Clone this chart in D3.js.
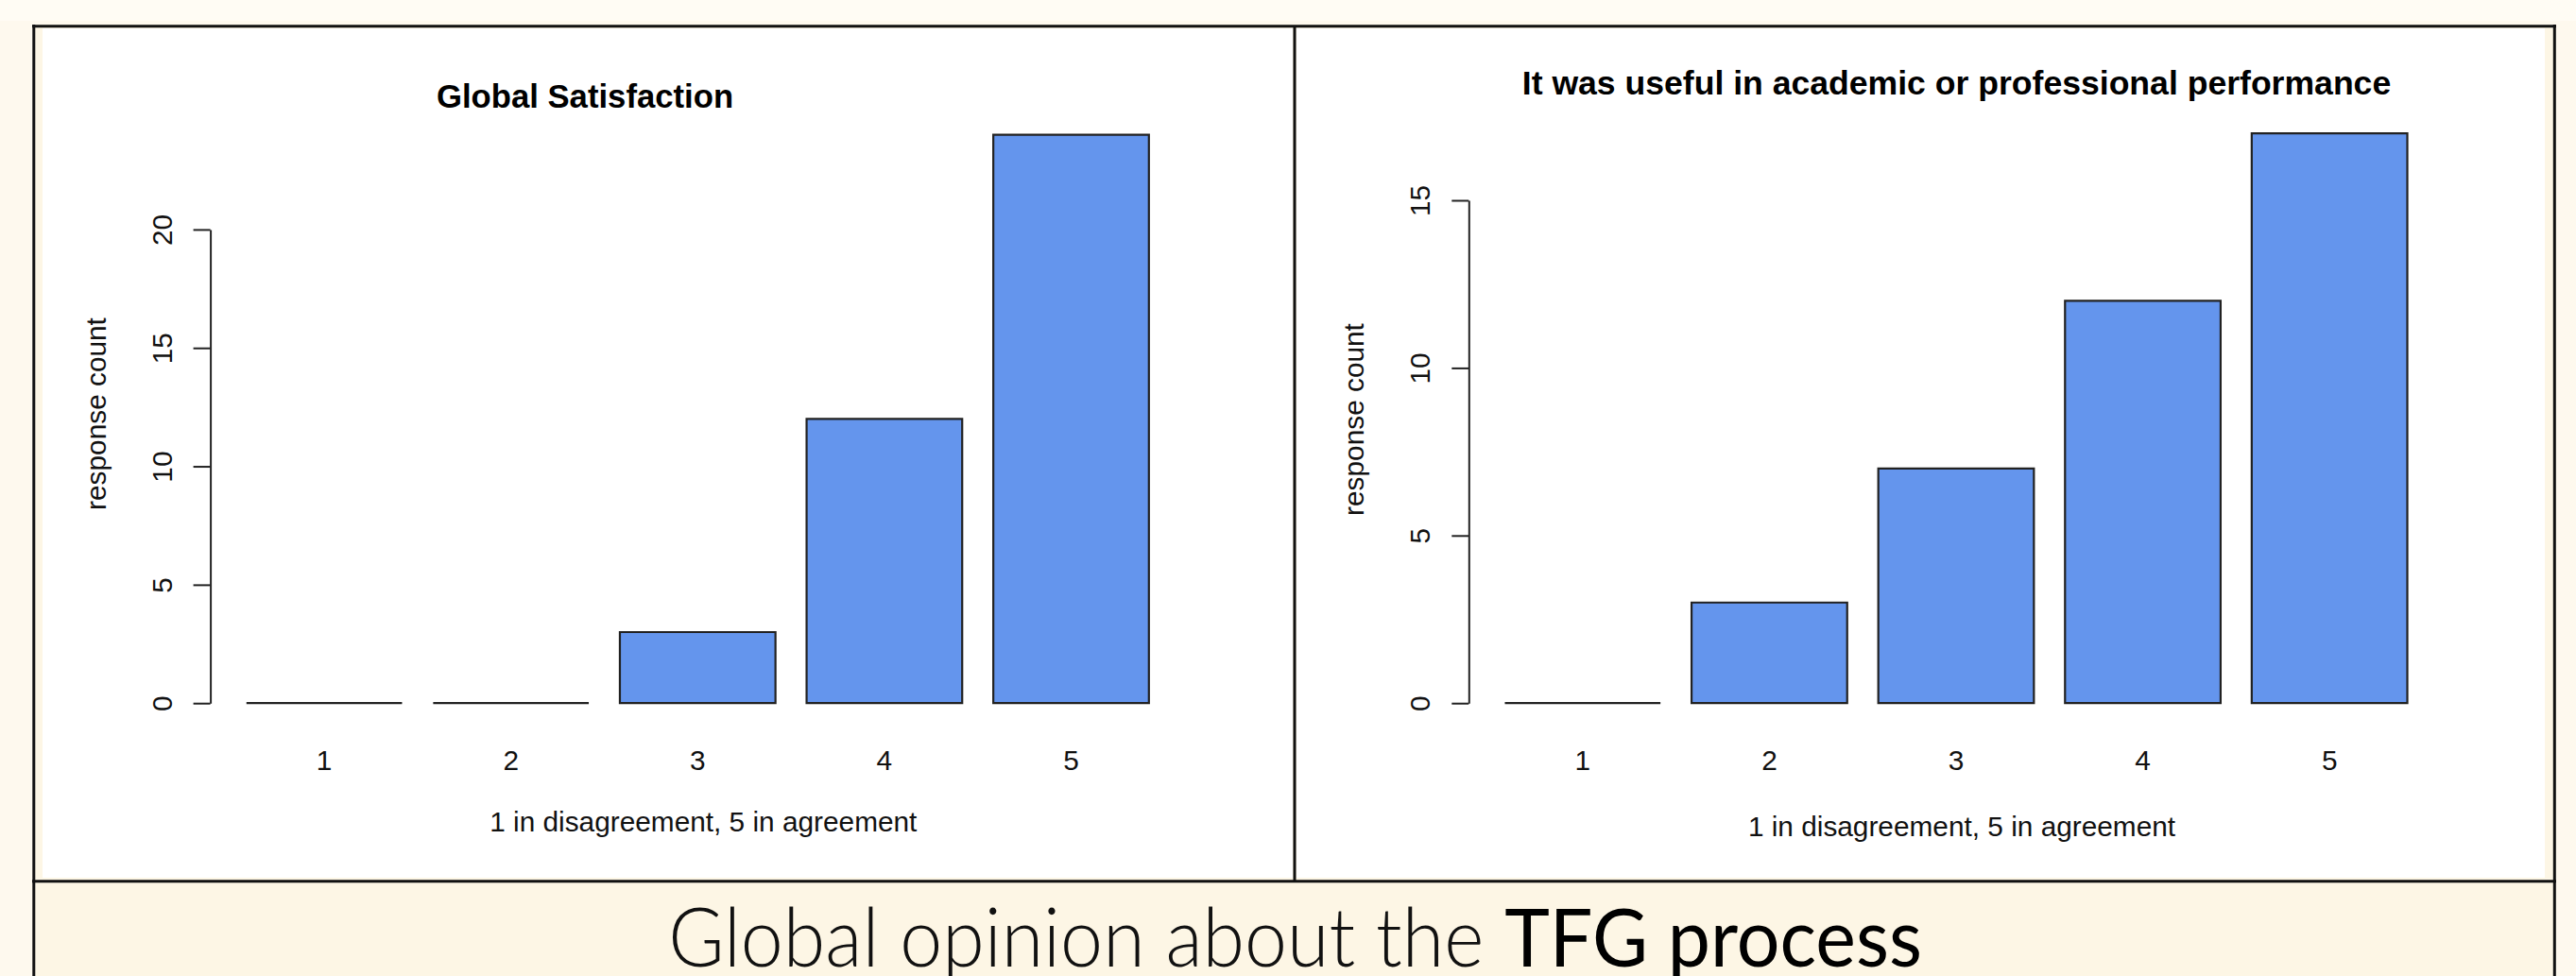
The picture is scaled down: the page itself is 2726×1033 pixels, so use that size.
<!DOCTYPE html>
<html>
<head>
<meta charset="utf-8">
<script src="https://cdn.jsdelivr.net/npm/d3@7"></script>
<style>
  html, body { margin: 0; padding: 0; background: #FEF9EE; }
  svg { display: block; }
</style>
</head>
<body>
<svg id="chart" width="2726" height="1033"></svg>
<script>
// ---- data ----
const categories = ["1", "2", "3", "4", "5"];
const satisfactionCounts = [0, 0, 3, 12, 24];
const usefulnessCounts = [0, 3, 7, 12, 17];
const satisfactionTicks = [0, 5, 10, 15, 20];
const usefulnessTicks = [0, 5, 10, 15];
const titleLeft = "Global Satisfaction";
const titleRight = "It was useful in academic or professional performance";
const xLabel = "1 in disagreement, 5 in agreement";
const yLabel = "response count";
const captionLight = "Global opinion about the ";
const captionBold = "TFG process";

// ---- drawing ----
const svg = d3.select("#chart");
const W = 2726, H = 1033;
const FONT = "'Liberation Sans', Arial, Helvetica, sans-serif";

// backgrounds
svg.append("rect").attr("x", 0).attr("y", 0).attr("width", W).attr("height", 22).attr("fill", "#FFFCF4");
svg.append("rect").attr("x", 36).attr("y", 28).attr("width", 2667).attr("height", H).attr("fill", "#FDF6E5");
svg.append("rect").attr("x", 45).attr("y", 30).attr("width", 1323).attr("height", 899).attr("fill", "#ffffff");
svg.append("rect").attr("x", 1372).attr("y", 30).attr("width", 1321).attr("height", 899).attr("fill", "#ffffff");

// frame lines
const frame = svg.append("g").attr("stroke", "#111").attr("stroke-width", 3).attr("fill", "none");
frame.append("line").attr("x1", 34).attr("x2", 2705).attr("y1", 27.7).attr("y2", 27.7);
frame.append("line").attr("x1", 35.8).attr("x2", 35.8).attr("y1", 26).attr("y2", H + 5);
frame.append("line").attr("x1", 2703.3).attr("x2", 2703.3).attr("y1", 26).attr("y2", H + 5);
frame.append("line").attr("x1", 1370).attr("x2", 1370).attr("y1", 27).attr("y2", 933);
frame.append("line").attr("x1", 34).attr("x2", 2705).attr("y1", 932.8).attr("y2", 932.8);

function panel(cfg) {
  const g = svg.append("g");
  const x = d3.scaleBand()
    .domain(categories)
    .range([cfg.axisX, cfg.axisX + 1031.4])
    .paddingInner(1 / 6)
    .paddingOuter(0.1933);
  const y = d3.scaleLinear()
    .domain([0, d3.max(cfg.ticks)])
    .range([744.2, cfg.topTickY]);

  // bars (paths so that zero-height bars still show a line)
  g.append("g").selectAll("path")
    .data(cfg.values)
    .join("path")
    .attr("d", (d, i) => {
      const x0 = x(categories[i]), x1 = x0 + x.bandwidth();
      const y0 = y(0), y1 = y(d);
      return `M${x0},${y0}H${x1}V${y1}H${x0}Z`;
    })
    .attr("fill", "#6495ED")
    .attr("stroke", "#222")
    .attr("stroke-width", 2.2);

  // y axis
  const ya = g.append("g")
    .attr("transform", `translate(${cfg.axisX},0)`)
    .call(d3.axisLeft(y).tickValues(cfg.ticks).tickSize(18).tickSizeOuter(0).tickFormat(d3.format("d")));
  ya.select(".domain").attr("stroke", "#222").attr("stroke-width", 2);
  ya.selectAll(".tick line").attr("stroke", "#222").attr("stroke-width", 2);
  ya.selectAll(".tick text")
    .attr("x", 0).attr("dy", 0).attr("y", 0)
    .attr("text-anchor", "middle")
    .attr("transform", "translate(-41,0) rotate(-90)")
    .attr("font-family", FONT).attr("font-size", 29.8).attr("fill", "#111");

  // x axis (labels only)
  const xa = g.append("g")
    .attr("transform", "translate(0,815)")
    .call(d3.axisBottom(x).tickSize(0));
  xa.select(".domain").remove();
  xa.selectAll(".tick text")
    .attr("y", 0).attr("dy", 0)
    .attr("font-family", FONT).attr("font-size", 29.8).attr("fill", "#111");

  const plotCx = (x.range()[0] + x.range()[1]) / 2;

  // x label
  g.append("text")
    .attr("x", plotCx + 6).attr("y", cfg.xlabY)
    .attr("text-anchor", "middle")
    .attr("font-family", FONT).attr("font-size", 29.8).attr("fill", "#111")
    .text(xLabel);

  // y label
  g.append("text")
    .attr("transform", `translate(${cfg.axisX - 111},${cfg.ylabCy}) rotate(-90)`)
    .attr("text-anchor", "middle")
    .attr("font-family", FONT).attr("font-size", 29.8).attr("fill", "#111")
    .text(yLabel);

  // title
  g.append("text")
    .attr("x", cfg.titleX).attr("y", cfg.titleY)
    .attr("text-anchor", "middle")
    .attr("font-family", FONT).attr("font-weight", "bold")
    .attr("font-size", cfg.titleSize).attr("fill", "#000")
    .text(cfg.title);
}

panel({
  axisX: 222.6, topTickY: 242.9, ticks: satisfactionTicks, values: satisfactionCounts,
  title: titleLeft, titleX: 619, titleY: 114, titleSize: 34.7,
  xlabY: 880, ylabCy: 438
});
panel({
  axisX: 1554.3, topTickY: 212, ticks: usefulnessTicks, values: usefulnessCounts,
  title: titleRight, titleX: 2070.5, titleY: 100, titleSize: 35.6,
  xlabY: 885, ylabCy: 444
});

// caption
const cap = svg.append("text")
  .attr("text-anchor", "middle")
  .attr("font-family", "Lato, 'Open Sans', sans-serif")
  .attr("font-size", 86)
  .attr("fill", "#111");
cap.append("tspan").attr("font-weight", 300).text(captionLight);
cap.append("tspan").attr("font-weight", 400).attr("fill", "#000").text(captionBold);
const natural = cap.node().getComputedTextLength();
const targetW = 1327;
const sx = targetW / natural;
cap.attr("transform", `translate(1370.5,1023) scale(${sx},1)`);
</script>
</body>
</html>
